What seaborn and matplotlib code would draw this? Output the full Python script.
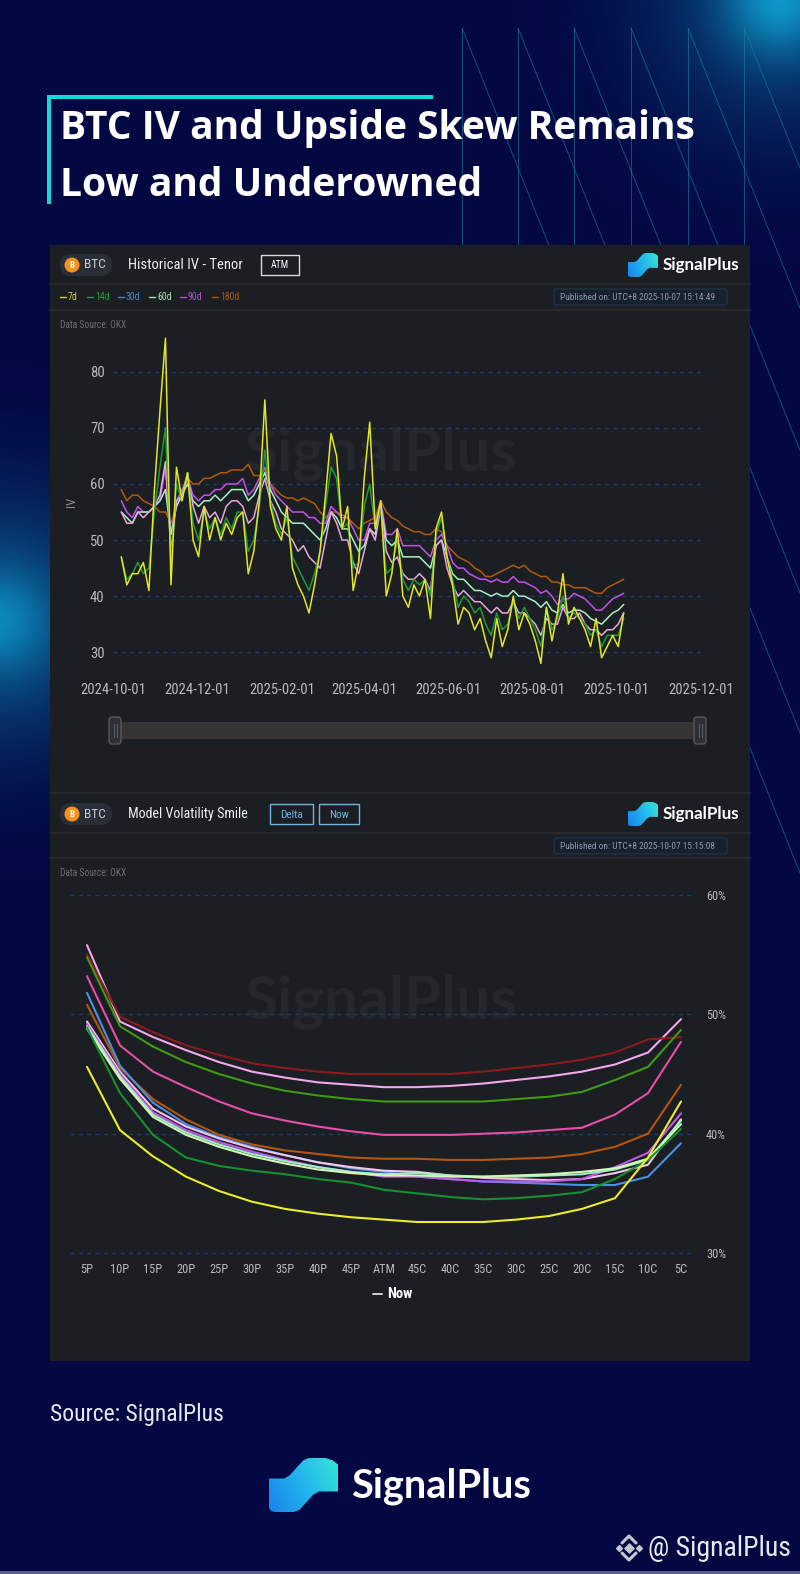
import numpy as np
import pandas as pd
import matplotlib
matplotlib.use("Agg")
import matplotlib.pyplot as plt
import matplotlib.dates as mdates
from matplotlib import font_manager as fm
from matplotlib.patches import FancyBboxPatch, Rectangle, Polygon, Circle
from matplotlib.colors import LinearSegmentedColormap
import seaborn as sns

# ---------------- data ----------------
iv_tenors = ["7d", "14d", "30d", "60d", "90d", "180d"]
iv_first_date = "2024-10-07"
iv_step = "4D"
iv_7d = [47, 42, 44, 44, 46, 41, 59, 73, 86, 42,
         63, 57, 62, 50, 47, 56, 50, 54, 50, 53,
         51, 54, 55, 44, 48, 57, 75, 56, 52, 50,
         56, 45, 42, 40, 37, 42, 48, 58, 69, 65,
         52, 56, 41, 46, 61, 71, 52, 57, 40, 44,
         52, 40, 38, 42, 40, 43, 36, 52, 55, 47,
         42, 35, 38, 37, 34, 36, 32, 29, 36, 31,
         34, 40, 34, 37, 35, 32, 28, 38, 32, 37,
         44, 35, 38, 36, 34, 31, 36, 29, 31, 33,
         31, 37]
iv_14d = [47, 43, 44, 46, 44, 45, 55, 63, 70, 46,
          60, 57, 62, 53, 50, 55, 52, 54, 51, 54,
          52, 55, 55, 48, 50, 56, 66, 57, 53, 51,
          54, 47, 45, 43, 41, 44, 48, 56, 63, 61,
          52, 53, 45, 46, 56, 60, 52, 56, 44, 45,
          50, 43, 41, 43, 42, 43, 40, 51, 54, 47,
          43, 38, 40, 39, 37, 38, 35, 33, 37, 34,
          35, 39, 36, 38, 36, 34, 31, 38, 34, 36,
          40, 36, 37, 36, 35, 33, 34, 31, 33, 33,
          33, 36]
iv_30d = [55, 53, 53, 55, 54, 55, 56, 58, 64, 48,
          57, 58, 62, 56, 53, 56, 54, 55, 53, 56,
          57, 57, 56, 53, 54, 58, 61, 57, 55, 52,
          51, 50, 48, 49, 47, 46, 45, 50, 55, 53,
          50, 50, 46, 44, 48, 52, 50, 56, 48, 46,
          47, 44, 43, 43, 44, 43, 41, 49, 50, 45,
          42, 40, 41, 40, 39, 39, 38, 37, 38, 37,
          37, 39, 37, 37, 36, 35, 33, 36, 35, 35,
          38, 36, 36, 37, 35, 34, 34, 33, 34, 34,
          35, 37]
iv_60d = [55, 54, 53, 55, 55, 55, 56, 57, 59, 51,
          56, 58, 60, 57, 56, 57, 57, 58, 57, 58,
          59, 59, 59, 57, 58, 60, 62, 59, 57, 55,
          54, 53, 53, 53, 52, 51, 50, 52, 55, 54,
          52, 52, 50, 48, 49, 52, 51, 56, 50, 49,
          50, 47, 47, 47, 47, 46, 45, 49, 50, 47,
          44, 43, 43, 42, 41, 41, 40.5, 40, 40.5, 40,
          40, 41, 40, 40, 39.5, 39, 38, 39, 37.5, 37,
          38.5, 37, 37.5, 37.5, 37, 36, 35.5, 35, 36, 37,
          37.5, 38.5]
iv_90d = [57, 55, 54, 56, 55, 55, 56, 57, 63, 51,
          57, 59, 61, 58, 57, 58, 58, 59, 59, 60,
          60, 60, 61, 58, 59, 61, 63, 60, 58, 57,
          56, 55, 55, 55, 54, 54, 53, 53, 56, 55,
          54, 54, 52, 50, 50, 53, 53, 57, 51, 51,
          52, 49, 49, 49, 49, 48, 47, 50, 51, 49,
          46, 45, 45, 44, 43.5, 43, 43, 42.5, 43, 42.5,
          42.5, 43.5, 42.5, 42.5, 42, 41.5, 40.5, 41, 40, 38.5,
          39.5, 39.5, 40.5, 40, 39.5, 38.5, 37.5, 37.5, 38.5, 39.5,
          40, 40.5]
iv_180d = [59, 57, 58, 58, 57, 56.5, 56, 55, 55, 53,
           56, 58, 61, 60, 60, 61, 61, 61.5, 62, 62,
           62.5, 62.5, 62.5, 63.5, 61.5, 61.5, 62.5, 60, 59, 58,
           57.5, 57.5, 57, 57.5, 57, 56.5, 55, 54, 55, 55,
           54.5, 54, 53, 52, 53, 53.5, 54, 57, 55, 54,
           53.5, 52.5, 52, 51.5, 51.5, 51, 51, 52, 51.5, 49,
           48, 47, 46.5, 46, 45, 44.5, 43.5, 43.5, 44, 44.5,
           45, 45.5, 45, 45.5, 44.5, 44, 43.5, 43.5, 42.5, 42.5,
           42, 42, 41.5, 41.5, 41.5, 41, 40.5, 40.5, 41.5, 42,
           42.5, 43]
iv_xticks = ["2024-10-01", "2024-12-01", "2025-02-01", "2025-04-01",
             "2025-06-01", "2025-08-01", "2025-10-01", "2025-12-01"]
iv_yticks = [30, 40, 50, 60, 70, 80]

smile_labels = ["5P", "10P", "15P", "20P", "25P", "30P", "35P", "40P", "45P", "ATM",
                "45C", "40C", "35C", "30C", "25C", "20C", "15C", "10C", "5C"]
smile_yticks = [30, 40, 50, 60]
smile_lavender = [55.8, 49.4, 48.1, 47.0, 46.0, 45.2, 44.7, 44.3, 44.1, 43.9, 43.9, 44.0, 44.2, 44.5, 44.8, 45.2, 45.8, 46.8, 49.6]
smile_darkred = [55.0, 49.8, 48.5, 47.4, 46.6, 45.9, 45.5, 45.2, 45.0, 45.0, 45.0, 45.0, 45.2, 45.5, 45.8, 46.2, 46.8, 47.9, 48.1]
smile_green = [54.8, 49.0, 47.3, 46.0, 45.0, 44.2, 43.6, 43.2, 42.9, 42.7, 42.7, 42.7, 42.7, 42.9, 43.1, 43.5, 44.5, 45.6, 48.7]
smile_hotpink = [53.2, 47.4, 45.2, 43.9, 42.7, 41.7, 41.1, 40.6, 40.2, 39.9, 39.9, 39.9, 40.0, 40.1, 40.3, 40.5, 41.6, 43.4, 47.7]
smile_orange = [50.8, 45.5, 42.9, 41.2, 39.9, 39.1, 38.6, 38.3, 38.0, 37.9, 37.9, 37.8, 37.8, 37.9, 38.0, 38.3, 38.9, 40.0, 44.1]
smile_blue = [51.8, 45.7, 42.6, 40.8, 39.7, 38.9, 38.2, 37.6, 37.1, 36.8, 36.4, 36.2, 36.0, 35.9, 35.8, 35.7, 35.7, 36.4, 39.2]
smile_palepink = [49.4, 45.2, 42.1, 40.6, 39.6, 38.8, 38.2, 37.6, 37.2, 36.9, 36.8, 36.5, 36.3, 36.2, 36.1, 36.2, 36.7, 37.4, 41.2]
smile_purple = [49.2, 45.0, 41.8, 40.3, 39.3, 38.5, 37.8, 37.2, 36.8, 36.4, 36.4, 36.2, 36.0, 36.0, 36.0, 36.2, 37.2, 38.4, 41.7]
smile_mint = [49.0, 44.8, 41.6, 40.1, 39.1, 38.3, 37.7, 37.2, 36.8, 36.6, 36.7, 36.5, 36.4, 36.4, 36.5, 36.6, 37.0, 37.8, 41.1]
smile_palegreen = [48.8, 44.6, 41.4, 39.9, 38.9, 38.1, 37.5, 37.0, 36.7, 36.5, 36.5, 36.4, 36.4, 36.5, 36.6, 36.8, 37.1, 37.9, 40.8]
smile_darkgreen = [48.9, 43.4, 39.9, 38.0, 37.3, 36.9, 36.6, 36.2, 35.9, 35.3, 35.0, 34.7, 34.5, 34.6, 34.8, 35.1, 36.2, 37.8, 40.4]
smile_yellow = [45.6, 40.3, 38.1, 36.4, 35.2, 34.3, 33.7, 33.3, 33.0, 32.8, 32.6, 32.6, 32.6, 32.8, 33.1, 33.7, 34.6, 38.0, 42.7]

# ---------------- style ----------------
BG = "#030843"
PANEL = "#1b1e22"
SEP = "#2a2e34"
GRID = "#1b3d6c"
TICK = "#b6bac0"

sns.set_style("dark")
names = {f.name for f in fm.fontManager.ttflist}
cond_family, cond_stretch = None, "normal"
for cand in ["Liberation Sans Narrow", "DejaVu Sans Condensed", "Roboto Condensed", "Open Sans Condensed"]:
    if cand in names:
        cond_family = cand
        break
if cond_family is None:
    cond_family = "DejaVu Sans"
    if any(f.name == "DejaVu Sans" and str(f.stretch) in ("condensed", "semi-condensed")
           for f in fm.fontManager.ttflist):
        cond_stretch = "condensed"
title_family = next((n for n in ["Open Sans", "Noto Sans", "Lato"] if n in names), "DejaVu Sans")
logo_family = next((n for n in ["Lato", "Inter", "Noto Sans"] if n in names), "DejaVu Sans")

plt.rcParams["font.family"] = [cond_family, "DejaVu Sans"]
plt.rcParams["font.stretch"] = cond_stretch
plt.rcParams["axes.unicode_minus"] = False
CK = dict(family=[cond_family, "DejaVu Sans"], stretch=cond_stretch)

W, H = 800, 1574
fig = plt.figure(figsize=(W / 100, H / 100), dpi=100)
fig.patch.set_facecolor(BG)
bg = fig.add_axes([0, 0, 1, 1])
bg.set_zorder(0)
bg.set_xlim(0, W)
bg.set_ylim(H, 0)
bg.set_autoscale_on(False)
bg.axis("off")
R = fig.canvas.get_renderer()


def fit_size(s, target_w, **kw):
    kw = {k: v for k, v in kw.items() if k not in ("ha", "va", "color", "zorder", "rotation")}
    t = fig.text(0, 0, s, fontsize=10, **kw)
    w = t.get_window_extent(renderer=R).width
    t.remove()
    return 10 * target_w / max(w, 1)


def T(x, y, s, w=None, size=10, **kw):
    if w is not None:
        size = fit_size(s, w, **kw)
    kw.setdefault("zorder", 5)
    return bg.text(x, y, s, fontsize=size, **kw)


def fax(l, t, r, b):
    return fig.add_axes([l / W, 1 - b / H, (r - l) / W, (b - t) / H])


# soft glows
gy, gx = np.mgrid[0:H:4, 0:W:4].astype(float)
r_tr = (gx - 778) ** 2 + (gy + 2) ** 2
r_l = (gx + 4) ** 2 + (gy - 620) ** 2
glow = (0.55 * np.exp(-r_tr / (2 * 38 ** 2)) + 0.35 * np.exp(-r_tr / (2 * 95 ** 2))
        + 0.35 * np.exp(-r_l / (2 * 35 ** 2)) + 0.45 * np.exp(-r_l / (2 * 90 ** 2)))
rgba = np.zeros(glow.shape + (4,))
rgba[..., 0], rgba[..., 1], rgba[..., 2] = 0.06, 0.66, 0.85
rgba[..., 3] = np.clip(glow, 0, 0.92)
bg.imshow(rgba, extent=(0, W, H, 0), zorder=0.5, interpolation="bilinear", aspect="auto")

# decorative diagonal lines top right
for xv in [462, 518, 574, 631, 688, 744]:
    bg.plot([xv, xv], [28, 245], color="#1f7fa0", lw=0.7, alpha=0.6, zorder=0.6)
    bg.plot([xv, 800], [28, 28 + (800 - xv) * 2.5], color="#1f7fa0", lw=0.7, alpha=0.6, zorder=0.6)

# title
bg.add_patch(Rectangle((47, 95), 386, 4, fc="#16d6da", ec="none", zorder=3))
bg.add_patch(Rectangle((47, 95), 4, 109, fc="#16d6da", ec="none", zorder=3))
tsize = fit_size("BTC IV and Upside Skew Remains", 636, family=title_family, weight="bold")
T(60, 139, "BTC IV and Upside Skew Remains", size=tsize, family=title_family, weight="bold",
  color="white", va="baseline", ha="left")
T(60, 196, "Low and Underowned", size=tsize, family=title_family, weight="bold",
  color="white", va="baseline", ha="left")

# panel
bg.add_patch(Rectangle((50, 245), 700, 1116, fc=PANEL, ec="none", zorder=1))
for yy in [284, 310, 793, 833, 858]:
    bg.plot([50, 750], [yy, yy], color=SEP, lw=1.2, zorder=2)

logo_cmap = LinearSegmentedColormap.from_list("sp", ["#1a84ea", "#22b4ee", "#36e6d4"])


def logo_icon(x0, y0, w, h):
    pts = [(0, 0.08), (0, 0.62), (0.22, 0.62), (0.3, 0.68), (0.42, 0.85), (0.5, 0.96),
           (0.58, 1.0), (0.82, 1.0), (0.92, 0.96), (1.0, 0.88), (1.0, 0.38), (0.72, 0.38),
           (0.64, 0.32), (0.52, 0.15), (0.44, 0.04), (0.36, 0.0), (0.08, 0.0), (0.02, 0.03)]
    P = [(x0 + w * px, y0 + h * (1 - py)) for px, py in pts]
    poly = Polygon(P, closed=True, fc="none", ec="none", zorder=5)
    bg.add_patch(poly)
    grad = np.linspace(0, 1, 64)[None, :] + np.linspace(0.35, 0, 16)[:, None]
    im = bg.imshow(grad, extent=(x0, x0 + w, y0 + h, y0), cmap=logo_cmap, aspect="auto",
                   zorder=5, interpolation="bilinear")
    im.set_clip_path(poly)


def header(yc, title, buttons, btn_color):
    bg.add_patch(FancyBboxPatch((60, yc - 11), 52, 22, boxstyle="round,pad=0,rounding_size=11",
                                fc="#2a2e36", ec="none", zorder=3))
    bg.add_patch(Circle((72, yc), 7.5, fc="#f7931a", ec="none", zorder=4))
    T(72, yc + 0.5, "B", size=6.5, color="white", ha="center", va="center", weight="bold")
    T(84, yc, "BTC", w=22, color="#c9ccd1", ha="left", va="center", **CK)
    T(128, yc, title, w=len(title) * 5.45, color="#eceef0", ha="left", va="center", **CK)
    for (bx0, bx1, lab, lw_) in buttons:
        bg.add_patch(Rectangle((bx0, yc - 10), bx1 - bx0, 20, fc="none", ec=btn_color, lw=1, zorder=4))
        T((bx0 + bx1) / 2, yc + 0.5, lab, w=lw_, color=btn_color if btn_color != "#d8dade" else "white",
          ha="center", va="center", **CK)
    logo_icon(628, yc - 12, 30, 24)
    T(663, yc, "SignalPlus", w=77, family=logo_family, weight="bold", color="white", ha="left", va="center")


def published(yc, stamp):
    bg.add_patch(FancyBboxPatch((554, yc - 8), 173, 16, boxstyle="round,pad=0,rounding_size=2",
                                fc="#17202c", ec="#22364f", lw=0.8, zorder=3))
    T(560, yc + 0.5, "Published on: UTC+8 " + stamp, w=155, color="#8d9bb0", ha="left", va="center")


# ----- chart 1 header & decorations -----
header(265, "Historical IV - Tenor", [(261, 299, "ATM", 18)], "#d8dade")
leg_text_cols = ["#cfd02a", "#2a9a3c", "#4a86d0", "#a3e8b4", "#b24fd4", "#a85a1c"]
leg_x = [60, 87, 118, 149, 180, 212]
lsize = fit_size("180d", 19)
for xl, lab, c in zip(leg_x, iv_tenors, leg_text_cols):
    bg.plot([xl, xl + 6], [297, 297], color=c, lw=1, zorder=4)
    T(xl + 8, 297.5, lab, size=lsize, color=c, ha="left", va="center")
published(297, "2025-10-07 15:14:49")
T(60, 325, "Data Source: OKX", w=66, color="#6c7178", ha="left", va="center")
wm = fit_size("SignalPlus", 272, family=logo_family, weight="bold")
T(381, 455, "SignalPlus", size=wm, family=logo_family, weight="bold", color="#24272c",
  ha="center", va="center", zorder=1.5)
T(72, 502, "IV", size=9, color="#8c9096", ha="center", va="center", rotation=90)

# slider
bg.add_patch(Rectangle((114, 722), 587, 17, fc="#353535", ec="none", zorder=3))
for hx in [115, 700]:
    bg.add_patch(FancyBboxPatch((hx - 6, 717), 12, 27, boxstyle="round,pad=0,rounding_size=3",
                                fc="#2c2f33", ec="#55595f", lw=1, zorder=4))
    bg.plot([hx - 1.5, hx - 1.5], [724, 737], color="#5b5f65", lw=0.8, zorder=5)
    bg.plot([hx + 1.5, hx + 1.5], [724, 737], color="#5b5f65", lw=0.8, zorder=5)

# ----- chart 1 -----
iv_dates = pd.date_range(iv_first_date, periods=len(iv_7d), freq=iv_step)
iv_series = dict(zip(iv_tenors, [iv_7d, iv_14d, iv_30d, iv_60d, iv_90d, iv_180d]))
df1 = pd.concat([pd.DataFrame({"date": iv_dates, "iv": v, "tenor": k}) for k, v in iv_series.items()],
                ignore_index=True)
line_pal = {"7d": "#e3e52a", "14d": "#1f9a34", "30d": "#eaa6db", "60d": "#a6f0c6",
            "90d": "#c452ea", "180d": "#b25a10"}
ax1 = fax(113, 327, 701, 669)
ax1.set_zorder(2)
ax1.set_facecolor("none")
sns.lineplot(data=df1, x="date", y="iv", hue="tenor",
             hue_order=["180d", "90d", "60d", "30d", "14d", "7d"],
             palette=line_pal, ax=ax1, legend=False, linewidth=1.1, estimator=None)
ax1.set_xlim(pd.Timestamp(iv_xticks[0]), pd.Timestamp(iv_xticks[-1]))
ax1.set_ylim(27, 88)
ax1.set_xticks(pd.to_datetime(iv_xticks))
ax1.xaxis.set_major_formatter(mdates.DateFormatter("%Y-%m-%d"))
ax1.set_yticks(iv_yticks)
ax1.grid(axis="y", color=GRID, linestyle=(0, (3, 3)), lw=1)
ax1.grid(axis="x", visible=False)
for s in ax1.spines.values():
    s.set_visible(False)
tk1 = fit_size("2024-10-01", 65)
ax1.tick_params(axis="x", length=0, colors=TICK, labelsize=tk1, pad=10)
ax1.tick_params(axis="y", length=0, colors=TICK, labelsize=tk1, pad=6)
ax1.set_xlabel("")
ax1.set_ylabel("")

# ----- chart 2 header & decorations -----
header(814, "Model Volatility Smile", [(270, 313, "Delta", 23), (319, 359, "Now", 20)], "#6fb4e0")
published(846, "2025-10-07 15:15:08")
T(60, 873, "Data Source: OKX", w=66, color="#6c7178", ha="left", va="center")
T(381, 1003, "SignalPlus", size=wm, family=logo_family, weight="bold", color="#24272c",
  ha="center", va="center", zorder=1.5)
bg.plot([373, 382], [1294, 1294], color="#d0d2d6", lw=1.4, zorder=5)
T(387, 1294, "Now", w=25, color="white", weight="bold", ha="left", va="center")

# ----- chart 2 -----
smile_series = {
    "lavender": smile_lavender, "darkred": smile_darkred, "green": smile_green,
    "hotpink": smile_hotpink, "orange": smile_orange, "blue": smile_blue,
    "palepink": smile_palepink, "purple": smile_purple, "mint": smile_mint,
    "palegreen": smile_palegreen, "darkgreen": smile_darkgreen, "yellow": smile_yellow,
}
smile_pal = {"lavender": "#f2a9ec", "darkred": "#8e1b1b", "green": "#3f9c12", "hotpink": "#e64fa8",
             "orange": "#b4560f", "blue": "#4b8fe6", "palepink": "#f6c6e6", "purple": "#c455ee",
             "mint": "#9ef0c4", "palegreen": "#d3f7b8", "darkgreen": "#17902f", "yellow": "#ecec2a"}
df2 = pd.concat([pd.DataFrame({"pos": np.arange(len(smile_labels)), "vol": v, "curve": k})
                 for k, v in smile_series.items()], ignore_index=True)
ax2 = fax(70, 880.7, 695, 1260.2)
ax2.set_zorder(2)
ax2.set_facecolor("none")
sns.lineplot(data=df2, x="pos", y="vol", hue="curve", hue_order=list(smile_series.keys()),
             palette=smile_pal, ax=ax2, legend=False, linewidth=1.5, estimator=None)
ax2.set_xlim(-0.515, len(smile_labels) - 1 + 0.424)
ax2.set_ylim(29.4, 61.2)
ax2.set_xticks(np.arange(len(smile_labels)))
ax2.set_xticklabels(smile_labels)
ax2.set_yticks(smile_yticks)
ax2.set_yticklabels([f"{v}%" for v in smile_yticks])
ax2.yaxis.tick_right()
ax2.grid(axis="y", color=GRID, linestyle=(0, (3, 3)), lw=1)
ax2.grid(axis="x", visible=False)
for s in ax2.spines.values():
    s.set_visible(False)
tk2 = fit_size("ATM", 23)
ax2.tick_params(axis="x", length=0, colors=TICK, labelsize=tk2, pad=2)
ax2.tick_params(axis="y", length=0, colors=TICK, labelsize=tk2, pad=8)
ax2.set_xlabel("")
ax2.set_ylabel("")

# ----- footer -----
T(50, 1415, "Source: SignalPlus", w=174, color="#e6e8f0", ha="left", va="center")
logo_icon(269, 1458, 69, 54)
T(351, 1486, "SignalPlus", w=180, family=logo_family, weight="bold", color="white", ha="left", va="center")
bc = "#c4c7d0"
bg.scatter([629], [1548], s=22, marker="D", color=bc, zorder=5)
bg.scatter([619, 639], [1548, 1548], s=9, marker="D", color=bc, zorder=5)
bg.plot([622, 629, 636], [1543, 1536, 1543], color=bc, lw=2.2, zorder=5)
bg.plot([622, 629, 636], [1553, 1560, 1553], color=bc, lw=2.2, zorder=5)
T(648, 1548, "@ SignalPlus", w=143, color="#e6e8f0", ha="left", va="center")
bg.add_patch(Rectangle((0, 1571), 800, 3, fc="#5b6088", ec="none", zorder=2))

fig.savefig("out.png", dpi=100, facecolor=BG)
